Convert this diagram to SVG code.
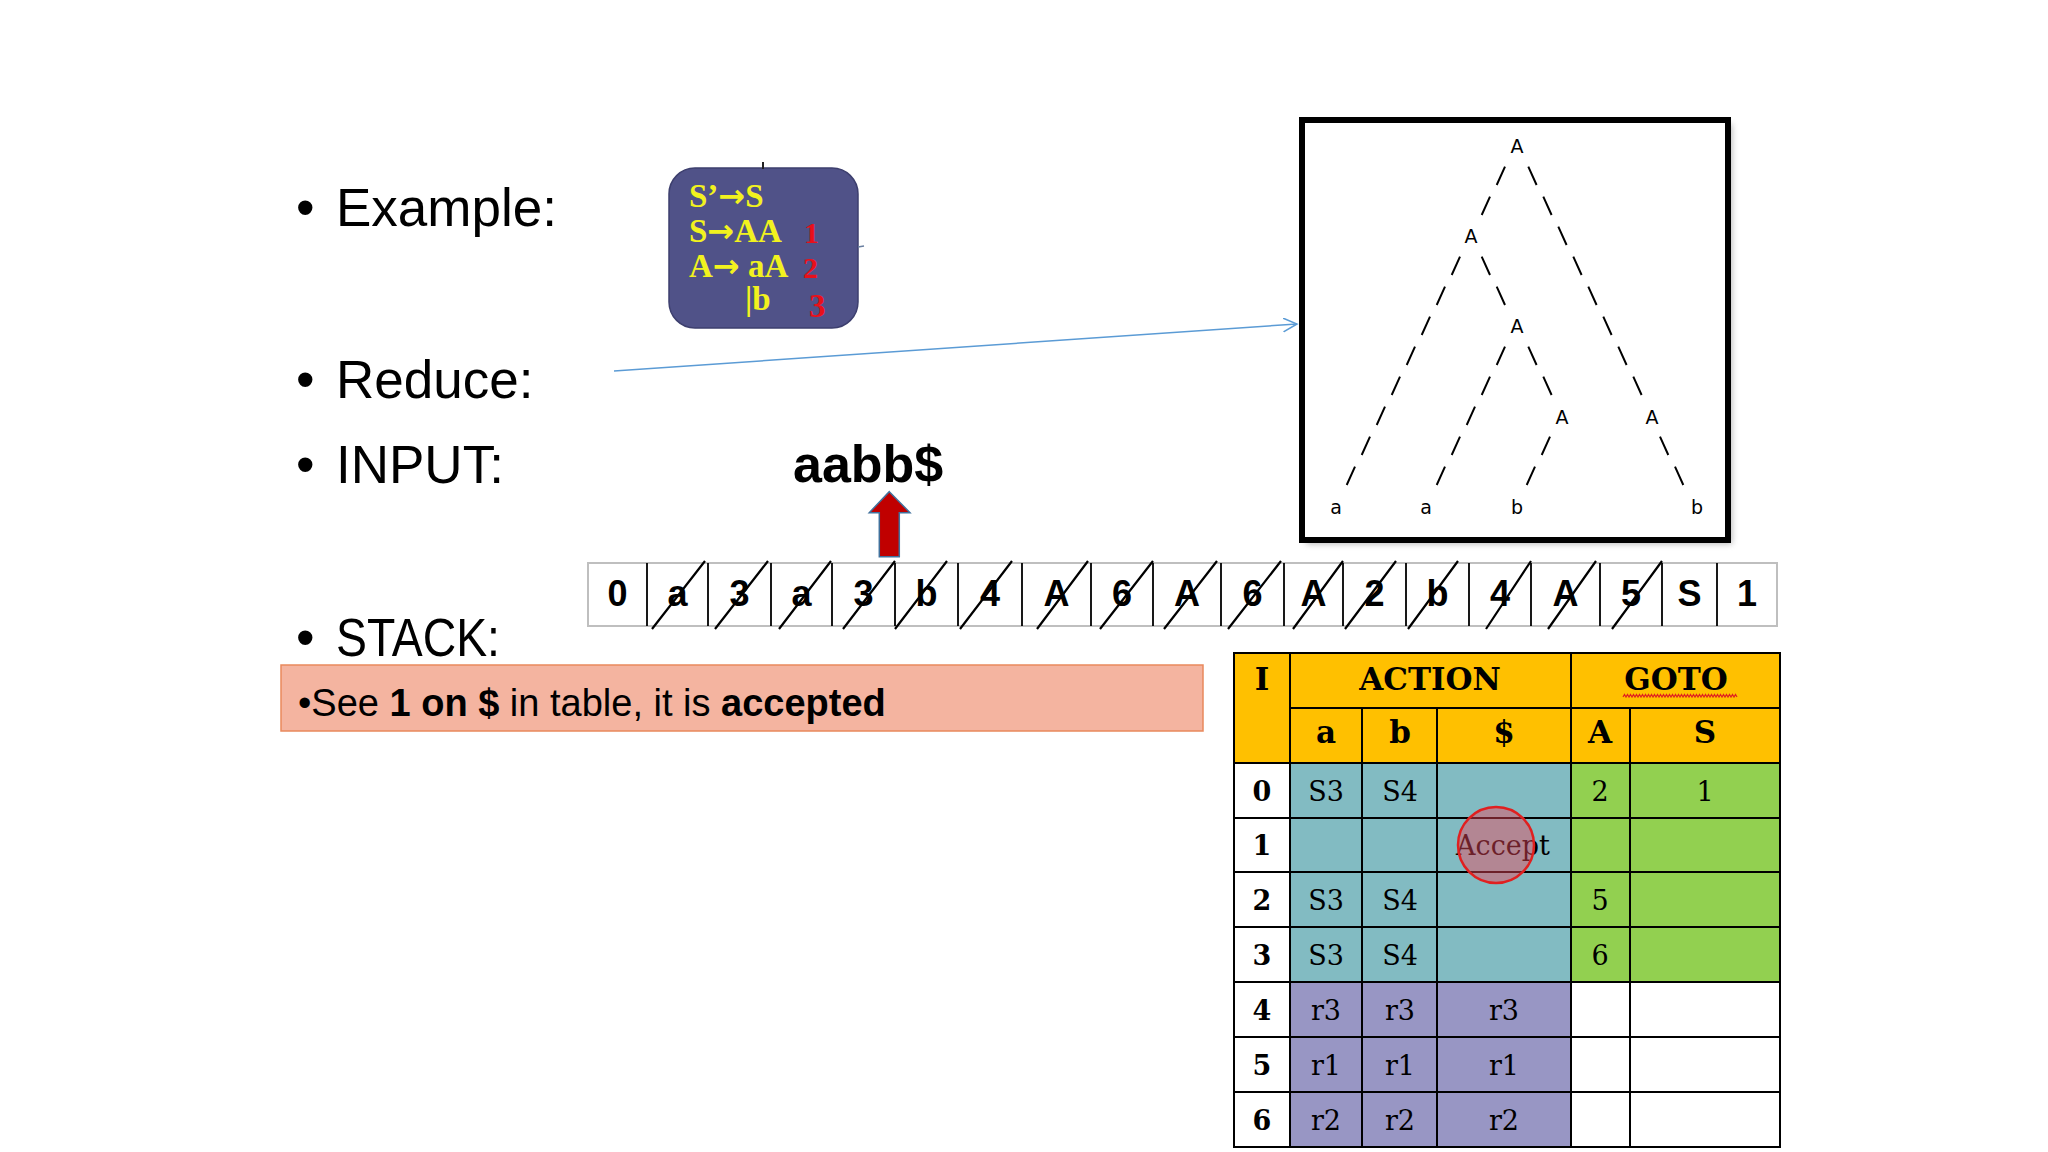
<svg xmlns="http://www.w3.org/2000/svg" width="2048" height="1152" viewBox="0 0 2048 1152">
<style>
.bul{font-family:"Liberation Sans",Arial,sans-serif;font-size:53px;fill:#000}
.gram{font-family:"Liberation Serif","Times New Roman",serif;font-weight:bold;font-size:33px;fill:#F2F21E}
.arr{font-family:"DejaVu Sans",sans-serif;font-weight:bold;font-size:32px}
.gnum{font-family:"Liberation Serif","Times New Roman",serif;font-weight:bold;fill:#E8101A}
.tree{font-family:"DejaVu Sans",Verdana,sans-serif;font-size:19px;fill:#000;text-anchor:middle}
.edge{fill:none;stroke:#000;stroke-width:2;stroke-linecap:butt}
.stk{font-family:"Liberation Sans",Arial,sans-serif;font-weight:bold;font-size:36px;fill:#000;text-anchor:middle}
.strike{stroke:#000;stroke-width:2.2;fill:none}
.th{font-family:"DejaVu Serif","Liberation Serif",serif;font-weight:bold;font-size:31px;fill:#000;text-anchor:middle}
.tl{font-family:"DejaVu Serif","Liberation Serif",serif;font-weight:bold;font-size:27px;fill:#000;text-anchor:middle}
.tc{font-family:"DejaVu Serif","Liberation Serif",serif;font-size:27px;fill:#000;text-anchor:middle}
.grid{stroke:#000;stroke-width:2;fill:none}
</style>
<defs>
<marker id="openArrow" markerUnits="userSpaceOnUse" markerWidth="18" markerHeight="18" refX="14" refY="7" orient="auto">
<path d="M0,0 L14,7 L0,14" fill="none" stroke="#5B9BD5" stroke-width="1.5"/>
</marker>
<filter id="shadow" x="-5%" y="-5%" width="115%" height="115%">
<feGaussianBlur stdDeviation="3"/>
</filter>
</defs>
<rect width="2048" height="1152" fill="#fff"/>

<g id="bullets">
<text class="bul" x="296" y="226">•</text><text class="bul" x="336" y="226">Example:</text>
<text class="bul" x="296" y="398">•</text><text class="bul" x="336" y="398">Reduce:</text>
<text class="bul" x="296" y="483">•</text><text class="bul" x="336" y="483">INPUT:</text>
<text class="bul" x="296" y="656">•</text><text class="bul" x="336" y="656" textLength="164" lengthAdjust="spacingAndGlyphs">STACK:</text>
</g>

<g id="grammar">
<rect x="669" y="168" width="189" height="160" rx="26" ry="26" fill="#505288" stroke="#3D3F6E" stroke-width="1.5"/>
<line x1="763" y1="162" x2="763" y2="169" stroke="#222" stroke-width="2"/>
<line x1="858" y1="247" x2="864" y2="246" stroke="#6A7FA0" stroke-width="1.5"/>
<text class="gram" x="689" y="207">S’<tspan class="arr">→</tspan>S</text>
<text class="gram" x="689" y="242">S<tspan class="arr">→</tspan>AA</text>
<text class="gram" x="689" y="277">A<tspan class="arr">→</tspan> aA</text>
<text class="gram" x="745" y="310">|b</text>
<text class="gnum" x="804" y="243" font-size="30">1</text>
<text class="gnum" x="803" y="278" font-size="30">2</text>
<text class="gnum" x="809" y="317" font-size="33">3</text>
</g>

<g id="connectors">
<line x1="614" y1="371" x2="1297" y2="324" stroke="#5B9BD5" stroke-width="1.5" marker-end="url(#openArrow)"/>
</g>

<g id="parse-tree">
<rect x="1306" y="124" width="426" height="420" fill="#888" opacity="0.6" filter="url(#shadow)"/>
<rect x="1302" y="120" width="426" height="420" fill="#fff" stroke="#000" stroke-width="6"/>
<text class="tree" x="1517" y="153">A</text>
<text class="tree" x="1471" y="243">A</text>
<text class="tree" x="1517" y="333">A</text>
<text class="tree" x="1562" y="424">A</text>
<text class="tree" x="1652" y="424">A</text>
<text class="tree" x="1336" y="514">a</text>
<text class="tree" x="1426" y="514">a</text>
<text class="tree" x="1517" y="514">b</text>
<text class="tree" x="1697" y="514">b</text>
<path class="edge" d="M1505,166.7 l-8.3,18.3 m-6.7,11.7 l-8.3,18.3"/>
<path class="edge" d="M1528.3,166.7 l8.3,18.3 m6.7,11.7 l8.3,18.3 m6.7,11.7 l8.3,18.3 m6.7,11.7 l8.3,18.3 m6.7,11.7 l8.3,18.3 m6.7,11.7 l8.3,18.3 m6.7,11.7 l8.3,18.3 m6.7,11.7 l8.3,18.3"/>
<path class="edge" d="M1460,256.7 l-8.3,18.3 m-6.7,11.7 l-8.3,18.3 m-6.7,11.7 l-8.3,18.3 m-6.7,11.7 l-8.3,18.3 m-6.7,11.7 l-8.3,18.3 m-6.7,11.7 l-8.3,18.3 m-6.7,11.7 l-8.3,18.3 m-6.7,11.7 l-8.3,18.3"/>
<path class="edge" d="M1481.7,256.7 l8.3,18.3 m6.7,11.7 l8.3,18.3"/>
<path class="edge" d="M1505,346.7 l-8.3,18.3 m-6.7,11.7 l-8.3,18.3 m-6.7,11.7 l-8.3,18.3 m-6.7,11.7 l-8.3,18.3 m-6.7,11.7 l-8.3,18.3"/>
<path class="edge" d="M1528.3,346.7 l8.3,18.3 m6.7,11.7 l8.3,18.3"/>
<path class="edge" d="M1550,436.7 l-8.3,18.3 m-6.7,11.7 l-8.3,18.3"/>
<path class="edge" d="M1660,436.7 l8.3,18.3 m6.7,11.7 l8.3,18.3"/>
</g>

<g id="input">
<text x="793" y="482" font-family="Liberation Sans, Arial, sans-serif" font-weight="bold" font-size="52" fill="#000">aabb$</text>
<path d="M889.3,491.7 L910,512.7 L899.3,512.7 L899.3,556.7 L879.3,556.7 L879.3,512.7 L869.3,512.7 Z" fill="#C00000" stroke="#41719C" stroke-width="1.5"/>
</g>

<g id="stack">
<rect x="588" y="563" width="1189" height="63" fill="#fff" stroke="#BFBFBF" stroke-width="2"/>
<path d="M647,563V626 M708,563V626 M771,563V626 M832,563V626 M895,563V626 M958,563V626 M1022,563V626 M1091,563V626 M1153,563V626 M1221,563V626 M1284,563V626 M1343,563V626 M1406,563V626 M1469,563V626 M1531,563V626 M1600,563V626 M1662,563V626 M1717,563V626" stroke="#000" stroke-width="1.8"/>
<text class="stk" x="617.5" y="606">0</text>
<text class="stk" x="677.5" y="606">a</text>
<text class="stk" x="739.5" y="606">3</text>
<text class="stk" x="801.5" y="606">a</text>
<text class="stk" x="863.5" y="606">3</text>
<text class="stk" x="926.5" y="606">b</text>
<text class="stk" x="990" y="606">4</text>
<text class="stk" x="1056.5" y="606">A</text>
<text class="stk" x="1122" y="606">6</text>
<text class="stk" x="1187" y="606">A</text>
<text class="stk" x="1252.5" y="606">6</text>
<text class="stk" x="1313.5" y="606">A</text>
<text class="stk" x="1374.5" y="606">2</text>
<text class="stk" x="1437.5" y="606">b</text>
<text class="stk" x="1500" y="606">4</text>
<text class="stk" x="1565.5" y="606">A</text>
<text class="stk" x="1631" y="606">5</text>
<text class="stk" x="1689.5" y="606">S</text>
<text class="stk" x="1747" y="606">1</text>
<path class="strike" d="M652,629L705,561 M715,629L768,561 M779,629L831,561 M843,629L895,561 M895,629L947,561 M960,629L1012,561 M1037,629L1088,561 M1100,629L1153,561 M1164,629L1217,561 M1228,629L1281,561 M1293,629L1343,561 M1345,629L1396,561 M1408,629L1458,561 M1486,629L1531,561 M1548,629L1596,561 M1612,629L1662,561"/>
</g>

<g id="note">
<rect x="281" y="665" width="922" height="66" fill="#F4B4A0" stroke="#E9895C" stroke-width="1.5"/>
<text x="298" y="716" font-family="Liberation Sans, Arial, sans-serif" font-size="38" fill="#000">•See <tspan font-weight="bold">1 on $</tspan> in table, it is <tspan font-weight="bold">accepted</tspan></text>
</g>

<g id="lr-table">
<rect x="1234" y="653" width="546" height="110" fill="#FFC000"/>
<rect x="1234" y="763" width="56" height="384" fill="#fff"/>
<rect x="1290" y="763" width="281" height="219" fill="#82BBC2"/>
<rect x="1571" y="763" width="209" height="219" fill="#92D050"/>
<rect x="1290" y="982" width="281" height="165" fill="#9896C4"/>
<rect x="1571" y="982" width="209" height="165" fill="#fff"/>
<rect class="grid" x="1234" y="653" width="546" height="494"/>
<path class="grid" d="M1290,708H1780 M1234,763H1780 M1234,818H1780 M1234,872H1780 M1234,927H1780 M1234,982H1780 M1234,1037H1780 M1234,1092H1780 M1290,653V1147 M1571,653V1147 M1362,708V1147 M1437,708V1147 M1630,708V1147"/>
<text class="th" x="1262" y="690">I</text>
<text class="th" x="1430" y="690">ACTION</text>
<text class="th" x="1676" y="690">GOTO</text>
<path d="M1623,697 l1.5,-2.5 l1.5,2.5 l1.5,-2.5 l1.5,2.5 l1.5,-2.5 l1.5,2.5 l1.5,-2.5 l1.5,2.5 l1.5,-2.5 l1.5,2.5 l1.5,-2.5 l1.5,2.5 l1.5,-2.5 l1.5,2.5 l1.5,-2.5 l1.5,2.5 l1.5,-2.5 l1.5,2.5 l1.5,-2.5 l1.5,2.5 l1.5,-2.5 l1.5,2.5 l1.5,-2.5 l1.5,2.5 l1.5,-2.5 l1.5,2.5 l1.5,-2.5 l1.5,2.5 l1.5,-2.5 l1.5,2.5 l1.5,-2.5 l1.5,2.5 l1.5,-2.5 l1.5,2.5 l1.5,-2.5 l1.5,2.5 l1.5,-2.5 l1.5,2.5 l1.5,-2.5 l1.5,2.5 l1.5,-2.5 l1.5,2.5 l1.5,-2.5 l1.5,2.5 l1.5,-2.5 l1.5,2.5 l1.5,-2.5 l1.5,2.5 l1.5,-2.5 l1.5,2.5 l1.5,-2.5 l1.5,2.5 l1.5,-2.5 l1.5,2.5 l1.5,-2.5 l1.5,2.5 l1.5,-2.5 l1.5,2.5 l1.5,-2.5 l1.5,2.5 l1.5,-2.5 l1.5,2.5 l1.5,-2.5 l1.5,2.5 l1.5,-2.5 l1.5,2.5 l1.5,-2.5 l1.5,2.5 l1.5,-2.5 l1.5,2.5 l1.5,-2.5 l1.5,2.5 l1.5,-2.5 l1.5,2.5 l1.5,-2.5 l1.5,2.5" fill="none" stroke="#E02020" stroke-width="1.2"/>
<text class="th" x="1326" y="743">a</text>
<text class="th" x="1400" y="743">b</text>
<text class="th" x="1504" y="743">$</text>
<text class="th" x="1600" y="743">A</text>
<text class="th" x="1705" y="743">S</text>
<text class="tl" x="1262" y="801">0</text>
<text class="tl" x="1262" y="855">1</text>
<text class="tl" x="1262" y="910">2</text>
<text class="tl" x="1262" y="965">3</text>
<text class="tl" x="1262" y="1020">4</text>
<text class="tl" x="1262" y="1075">5</text>
<text class="tl" x="1262" y="1130">6</text>
<text class="tc" x="1326" y="801">S3</text>
<text class="tc" x="1400" y="801">S4</text>
<text class="tc" x="1600" y="801">2</text>
<text class="tc" x="1705" y="801">1</text>
<text class="tc" x="1503" y="855">Accept</text>
<text class="tc" x="1326" y="910">S3</text>
<text class="tc" x="1400" y="910">S4</text>
<text class="tc" x="1600" y="910">5</text>
<text class="tc" x="1326" y="965">S3</text>
<text class="tc" x="1400" y="965">S4</text>
<text class="tc" x="1600" y="965">6</text>
<text class="tc" x="1326" y="1020">r3</text>
<text class="tc" x="1400" y="1020">r3</text>
<text class="tc" x="1504" y="1020">r3</text>
<text class="tc" x="1326" y="1075">r1</text>
<text class="tc" x="1400" y="1075">r1</text>
<text class="tc" x="1504" y="1075">r1</text>
<text class="tc" x="1326" y="1130">r2</text>
<text class="tc" x="1400" y="1130">r2</text>
<text class="tc" x="1504" y="1130">r2</text>
<circle cx="1496" cy="845" r="38" fill="rgb(240,70,90)" fill-opacity="0.45" stroke="#E02020" stroke-width="2.5"/>
</g>
</svg>
